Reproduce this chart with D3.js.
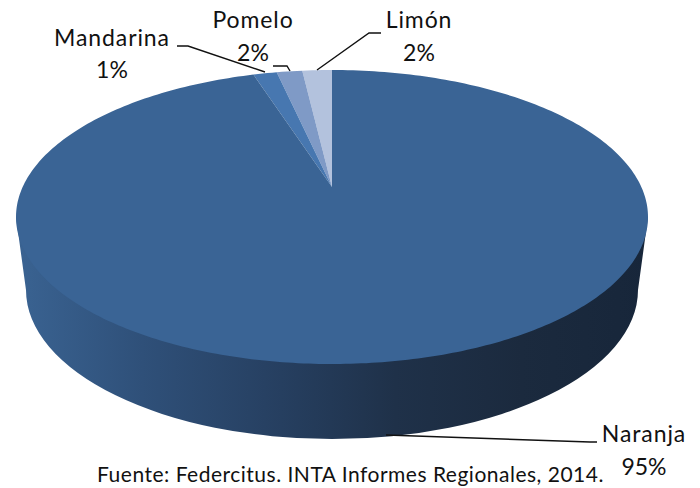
<!DOCTYPE html>
<html>
<head>
    <meta charset="utf-8">
    <title>Citrus pie</title>
    <script src="https://d3js.org/d3.v7.min.js"></script>
    <style>
        body {
            margin: 0;
            background: #fff;
        }
        svg {
            display: block;
        }
        text {
            font-family: Lato, "Open Sans", sans-serif;
            font-size: 23px;
            fill: #111;
        }
        .name {
            letter-spacing: 0.9px;
        }
        .source {
            font-size: 21px;
            letter-spacing: 0.5px;
        }
    </style>
</head>
<body>
    <svg width="700" height="488"></svg>
    <script>
        const categories = ["Limón", "Pomelo", "Mandarina", "Naranja"];
        const shares = [1.5, 1.3, 1.2, 96];
        const pctLabels = ["2%", "2%", "1%", "95%"];
        const sliceColors = ["#b3c2dd", "#7f9ac6", "#4777b0", "#3a6495"];

        const svg = d3.select("svg");

        // Top face ellipse, bottom rim ellipse (narrower because of perspective)
        const face = {cx: 332, cy: 217, rx: 316, ry: 147, apexY: 187};
        const rim = {cx: 332, cy: 290, rx: 306, ry: 149};

        const defs = svg.append("defs");
        const grad = defs.append("linearGradient")
            .attr("id", "wall")
            .attr("gradientUnits", "userSpaceOnUse")
            .attr("x1", 16).attr("x2", 648).attr("y1", 0).attr("y2", 0);
        [[0, "#3a6392"], [0.2, "#2f5079"], [0.42, "#263f60"], [0.6, "#1f3149"], [0.8, "#1b2a3e"], [1, "#17263a"]]
            .forEach(s => grad.append("stop").attr("offset", s[0]).attr("stop-color", s[1]));

        // Side wall
        svg.append("path")
            .attr("d", `M${face.cx - face.rx},${face.cy} L${rim.cx - rim.rx},${rim.cy}
                A${rim.rx},${rim.ry} 0 0 0 ${rim.cx + rim.rx},${rim.cy}
                L${face.cx + face.rx},${face.cy} Z`)
            .attr("fill", "url(#wall)");

        // Top face: slices go counter clockwise from 12 o'clock
        const pie = d3.pie().sort(null).value(d => d)
            .startAngle(0).endAngle(-2 * Math.PI);
        const arcs = pie(shares);

        const edge = t => [face.cx + face.rx * Math.sin(t), face.cy - face.ry * Math.cos(t)];
        const line = d3.line();

        arcs.forEach((a, i) => {
            const steps = Math.max(4, Math.ceil(Math.abs(a.endAngle - a.startAngle) * 60));
            const pts = d3.range(steps + 1).map(k => edge(a.startAngle + (a.endAngle - a.startAngle) * k / steps));
            svg.append("path")
                .attr("d", line([[face.cx, face.apexY], ...pts]) + "Z")
                .attr("fill", sliceColors[i]);
        });

        // Leader lines
        const leaders = [
            [[381, 33], [369, 33], [317, 70]],
            [[273, 66], [287, 66], [290, 71]],
            [[177, 46], [188, 46], [265, 72]],
            [[386, 435], [590, 442], [597, 442]]
        ];
        leaders.forEach(l => svg.append("path")
            .attr("d", line(l))
            .attr("fill", "none")
            .attr("stroke", "#111")
            .attr("stroke-width", 1.4));

        // Labels
        const labelPos = [[419, 28, 61], [253, 28, 61], [112, 46, 78], [644, 442, 475]];
        categories.forEach((c, i) => {
            const p = labelPos[i];
            svg.append("text").attr("class", "name").attr("x", p[0]).attr("y", p[1]).attr("text-anchor", "middle").text(c);
            svg.append("text").attr("x", p[0]).attr("y", p[2]).attr("text-anchor", "middle").text(pctLabels[i]);
        });

        svg.append("text")
            .attr("class", "source")
            .attr("x", 97).attr("y", 482)
            .text("Fuente: Federcitus. INTA Informes Regionales, 2014.");
    </script>
</body>
</html>
